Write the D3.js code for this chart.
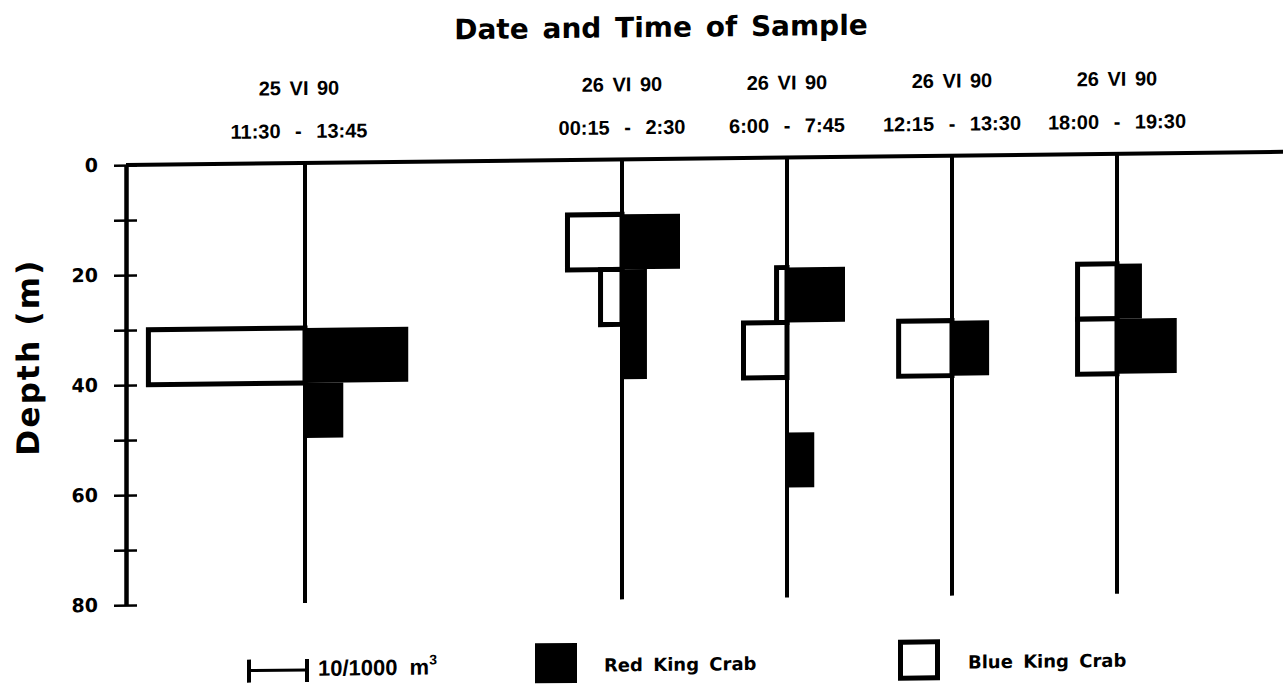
<!DOCTYPE html>
<html><head><meta charset="utf-8">
<script src="https://cdn.jsdelivr.net/npm/d3@7"></script>
<style>
html,body{margin:0;padding:0;background:#fff;}
svg{display:block;}
</style></head>
<body><svg id="chart" width="1283" height="685"></svg>
<script>
// ---------------- data ----------------
const stationDates = ["25 VI 90", "26 VI 90", "26 VI 90", "26 VI 90", "26 VI 90"];
const stationTimes = ["11:30 - 13:45", "00:15 - 2:30", "6:00 - 7:45", "12:15 - 13:30", "18:00 - 19:30"];
const depthTicks = [0, 10, 20, 30, 40, 50, 60, 70, 80];
const depthLabels = [0, 20, 40, 60, 80];
// density (number per 1000 m3) by station and depth stratum
const redKingCrab = [
  {station: 0, top: 30, bottom: 40, value: 17.8},
  {station: 0, top: 40, bottom: 50, value: 6.6},
  {station: 1, top: 10, bottom: 20, value: 10.0},
  {station: 1, top: 20, bottom: 40, value: 4.3},
  {station: 2, top: 20, bottom: 30, value: 10.0},
  {station: 2, top: 50, bottom: 60, value: 4.7},
  {station: 3, top: 30, bottom: 40, value: 6.4},
  {station: 4, top: 20, bottom: 30, value: 4.3},
  {station: 4, top: 30, bottom: 40, value: 10.3}
];
const blueKingCrab = [
  {station: 0, top: 30, bottom: 40, value: 27.0},
  {station: 1, top: 10, bottom: 20, value: 9.4},
  {station: 1, top: 20, bottom: 30, value: 3.7},
  {station: 2, top: 20, bottom: 30, value: 1.8},
  {station: 2, top: 30, bottom: 40, value: 7.5},
  {station: 3, top: 30, bottom: 40, value: 9.2},
  {station: 4, top: 20, bottom: 30, value: 6.8},
  {station: 4, top: 30, bottom: 40, value: 6.8}
];
const scaleBarValue = 10;
const titleText = "Date and Time of Sample";
const yTitle = "Depth (m)";
const legendLabels = ["Red King Crab", "Blue King Crab"];

// ---------------- layout ----------------
const svg = d3.select("#chart");
const X0 = 126;
const skewDeg = -0.65;
const tanA = Math.tan(-skewDeg * Math.PI / 180);
const root = svg.append("g")
  .attr("transform", `translate(0,${X0 * tanA}) skewY(${skewDeg})`);

const y = d3.scaleLinear().domain([0, 80]).range([165, 605]);
const w = d3.scaleLinear().domain([0, 10]).range([0, 58]);
const sx = d3.scaleOrdinal().domain(d3.range(stationDates.length))
  .range([305, 622, 787, 952, 1117]);

const labelFont = "'Liberation Sans', Arial, sans-serif";
const geoFont = "'DejaVu Sans', sans-serif";

// title
root.append("text")
  .attr("x", 661).attr("y", 43)
  .attr("text-anchor", "middle")
  .attr("font-family", geoFont).attr("font-weight", "bold")
  .attr("font-size", 28).style("word-spacing", "4px")
  .text(titleText);

// station labels
const lab = root.append("g").attr("font-family", labelFont)
  .attr("font-weight", "bold").attr("font-size", 20).attr("text-anchor", "middle");
lab.selectAll("text.date").data(stationDates).join("text")
  .attr("class", "date")
  .attr("x", (d, i) => sx(i) - (i === 0 ? 6 : 0)).attr("y", 97)
  .style("word-spacing", "3px")
  .text(d => d);
lab.selectAll("text.time").data(stationTimes).join("text")
  .attr("class", "time")
  .attr("x", (d, i) => sx(i) - (i === 0 ? 6 : 0)).attr("y", 140)
  .style("word-spacing", "9px")
  .text(d => d);

// blue (open) bars
root.append("g").selectAll("rect").data(blueKingCrab).join("rect")
  .attr("x", d => sx(d.station) - w(d.value))
  .attr("y", d => y(d.top))
  .attr("width", d => w(d.value))
  .attr("height", d => y(d.bottom) - y(d.top))
  .attr("fill", "#fff").attr("stroke", "#000").attr("stroke-width", 5);

// red (filled) bars
root.append("g").selectAll("rect").data(redKingCrab).join("rect")
  .attr("x", d => sx(d.station))
  .attr("y", d => y(d.top))
  .attr("width", d => w(d.value))
  .attr("height", d => y(d.bottom) - y(d.top))
  .attr("fill", "#000");

// station lines
root.append("g").selectAll("line").data(stationDates).join("line")
  .attr("x1", (d, i) => sx(i)).attr("x2", (d, i) => sx(i))
  .attr("y1", y(0)).attr("y2", y(80))
  .attr("stroke", "#000").attr("stroke-width", 4);

// top line (surface)
root.append("line")
  .attr("x1", X0).attr("x2", 1300)
  .attr("y1", y(0)).attr("y2", y(0))
  .attr("stroke", "#000").attr("stroke-width", 4);

// depth axis
const axis = d3.axisLeft(y).tickValues(depthTicks)
  .tickFormat(d => depthLabels.includes(d) ? d : "")
  .tickSizeOuter(0).tickPadding(22);
const ag = root.append("g").attr("transform", `translate(${X0},0)`).call(axis);
ag.select(".domain").attr("stroke", "#000").attr("stroke-width", 4.5);
ag.selectAll(".tick line").attr("x1", -12).attr("x2", 11)
  .attr("stroke", "#000").attr("stroke-width", 2.5);
ag.selectAll(".tick text").attr("font-family", geoFont)
  .attr("font-weight", "bold").attr("font-size", 19).attr("fill", "#000");

// y title
root.append("text")
  .attr("transform", "translate(39,357) rotate(-90)")
  .attr("text-anchor", "middle")
  .attr("font-family", geoFont).attr("font-weight", "bold")
  .attr("font-size", 31)
  .attr("textLength", 195).attr("lengthAdjust", "spacing")
  .text(yTitle);

// legend: scale bar
const lg = root.append("g");
const sbX = 249, sbY = 672;
lg.append("line").attr("x1", sbX).attr("x2", sbX + w(scaleBarValue))
  .attr("y1", sbY).attr("y2", sbY).attr("stroke", "#000").attr("stroke-width", 3);
lg.selectAll("line.cap").data([0, scaleBarValue]).join("line")
  .attr("class", "cap")
  .attr("x1", d => sbX + w(d)).attr("x2", d => sbX + w(d))
  .attr("y1", sbY - 11).attr("y2", sbY + 12)
  .attr("stroke", "#000").attr("stroke-width", 4);
const sbt = lg.append("text").attr("x", 318).attr("y", 678)
  .attr("font-family", labelFont).attr("font-size", 22).attr("font-weight", "bold")
  .style("word-spacing", "6px");
sbt.append("tspan").text("10/1000 m");
sbt.append("tspan").attr("dy", -10).attr("font-size", 14).text("3");

// legend: red
lg.append("rect").attr("x", 535).attr("y", 648).attr("width", 42).attr("height", 40).attr("fill", "#000");
lg.append("text").attr("x", 604).attr("y", 677)
  .attr("font-family", geoFont).attr("font-weight", "bold").attr("font-size", 18)
  .style("word-spacing", "4px").text(legendLabels[0]);
// legend: blue
lg.append("rect").attr("x", 900.5).attr("y", 651).attr("width", 37).attr("height", 36)
  .attr("fill", "#fff").attr("stroke", "#000").attr("stroke-width", 5);
lg.append("text").attr("x", 968).attr("y", 678)
  .attr("font-family", geoFont).attr("font-weight", "bold").attr("font-size", 18)
  .style("word-spacing", "4px").text(legendLabels[1]);
</script>
</body></html>
